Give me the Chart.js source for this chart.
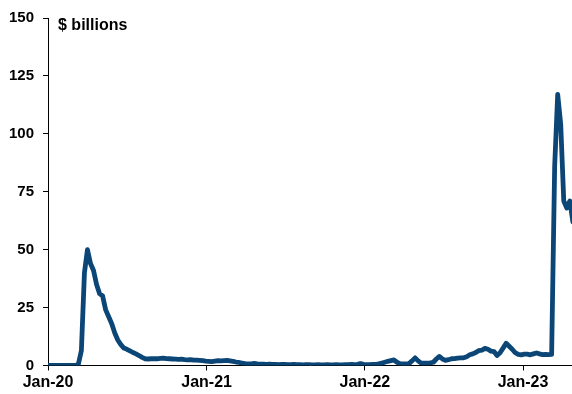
<!DOCTYPE html>
<html>
<head>
<meta charset="utf-8">
<script src="https://cdn.jsdelivr.net/npm/chart.js@4.4.1/dist/chart.umd.min.js"></script>
<style>
  html, body { margin: 0; padding: 0; background: #fff; }
  canvas { display: block; }
</style>
</head>
<body>
<canvas id="chart" width="572" height="394"></canvas>
<script>
// weekly series, week 0 = first week of Jan 2020 ($ billions)
const weekDays = 7;

const values2020 = [
  0, 0, 0, 0, 0, 0, 0, 0, 0, 0,
  0.5, 6.5, 40, 50, 44, 41, 35, 31, 30, 24,
  21, 18, 14, 11, 9, 7.5, 7, 6.3, 5.6, 5,
  4.3, 3.5, 2.9, 2.8, 2.9, 3.0, 2.9, 3.1, 3.2, 3.0,
  2.9, 2.8, 2.7, 2.6, 2.7, 2.5, 2.4, 2.5, 2.3, 2.3,
  2.2, 2.1, 1.9
];
const values2021 = [
  1.8, 1.7, 1.9, 2.1, 2.0, 2.1, 2.2, 2.0, 1.8, 1.5,
  1.3, 1.0, 0.8, 0.7, 0.7, 0.9, 0.7, 0.6, 0.6, 0.5,
  0.6, 0.5, 0.5, 0.4, 0.5, 0.5, 0.4, 0.4, 0.5, 0.4,
  0.4, 0.3, 0.4, 0.4, 0.3, 0.3, 0.4, 0.3, 0.3, 0.4,
  0.3, 0.3, 0.4, 0.3, 0.3, 0.4, 0.4, 0.5, 0.4, 0.5,
  0.8, 0.5
];
const values2022 = [
  0.4, 0.4, 0.5, 0.5, 0.7, 1.0, 1.4, 1.8, 2.1, 2.4,
  1.4, 0.8, 0.7, 0.7, 0.8, 2.0, 3.3, 2.0, 1.0, 1.0,
  1.0, 1.1, 1.4, 2.8, 3.9, 2.8, 2.2, 2.5, 2.9, 3.0,
  3.2, 3.3, 3.3, 3.8, 4.6, 5.0, 5.6, 6.4, 6.6, 7.4,
  7.0, 6.2, 6.0, 4.3, 5.5, 7.5, 9.6, 8.3, 7.0, 5.5,
  4.8
];
const values2023 = [
  4.6, 4.9, 4.9, 4.6, 5.0, 5.4, 5.0, 4.7, 4.8, 4.7,
  4.8, 86, 117, 104, 71, 68, 71, 62
];
const values = [...values2020, ...values2021, ...values2022, ...values2023];

// x axis runs in days since 1 Jan 2020
const tickDays = [0, 366, 731, 1096];
const tickLabels = ['Jan-20', 'Jan-21', 'Jan-22', 'Jan-23'];
const yTicks = [0, 25, 50, 75, 100, 125, 150];
const unitLabel = '$ billions';

const points = values.map((v, i) => ({ x: i * weekDays, y: v }));

const FONT = "'Liberation Sans', Arial, sans-serif";

const unitText = {
  id: 'unitText',
  afterDraw(chart) {
    const ctx = chart.ctx;
    ctx.save();
    ctx.font = `bold 16px ${FONT}`;
    ctx.fillStyle = '#000';
    ctx.textBaseline = 'alphabetic';
    ctx.fillText(unitLabel, chart.chartArea.left + 10, 30);
    ctx.restore();
  },
};

new Chart(document.getElementById('chart'), {
  type: 'line',
  data: {
    datasets: [{
      data: points,
      borderColor: '#0b4676',
      borderWidth: 4.8,
      borderJoinStyle: 'round',
      borderCapStyle: 'round',
      pointRadius: 0,
      tension: 0,
      fill: false,
      clip: 0,
    }],
  },
  options: {
    responsive: false,
    devicePixelRatio: 1,
    animation: false,
    layout: { padding: { left: 0, right: 0, top: 1, bottom: 0 } },
    plugins: {
      legend: { display: false },
      tooltip: { enabled: false },
    },
    scales: {
      x: {
        type: 'linear',
        min: 0,
        max: 1209,
        z: 1,
        afterBuildTicks: (axis) => { axis.ticks = tickDays.map((v) => ({ value: v })); },
        grid: { drawOnChartArea: false, drawTicks: true, tickLength: 5, color: '#000' },
        border: { display: true, color: '#000', width: 1 },
        ticks: {
          autoSkip: false,
          maxRotation: 0,
          padding: 6,
          color: '#000',
          font: { family: FONT, size: 16, weight: 'bold', lineHeight: 0.72 },
          callback: (v, i) => tickLabels[i],
        },
      },
      y: {
        min: 0,
        max: 150,
        z: 1,
        afterBuildTicks: (axis) => { axis.ticks = yTicks.map((v) => ({ value: v })); },
        grid: { drawOnChartArea: false, drawTicks: true, tickLength: 5, color: '#000' },
        border: { display: true, color: '#000', width: 1 },
        ticks: {
          padding: 9,
          color: '#000',
          font: { family: FONT, size: 15, weight: 'bold' },
        },
      },
    },
  },
  plugins: [unitText],
});
</script>
</body>
</html>
